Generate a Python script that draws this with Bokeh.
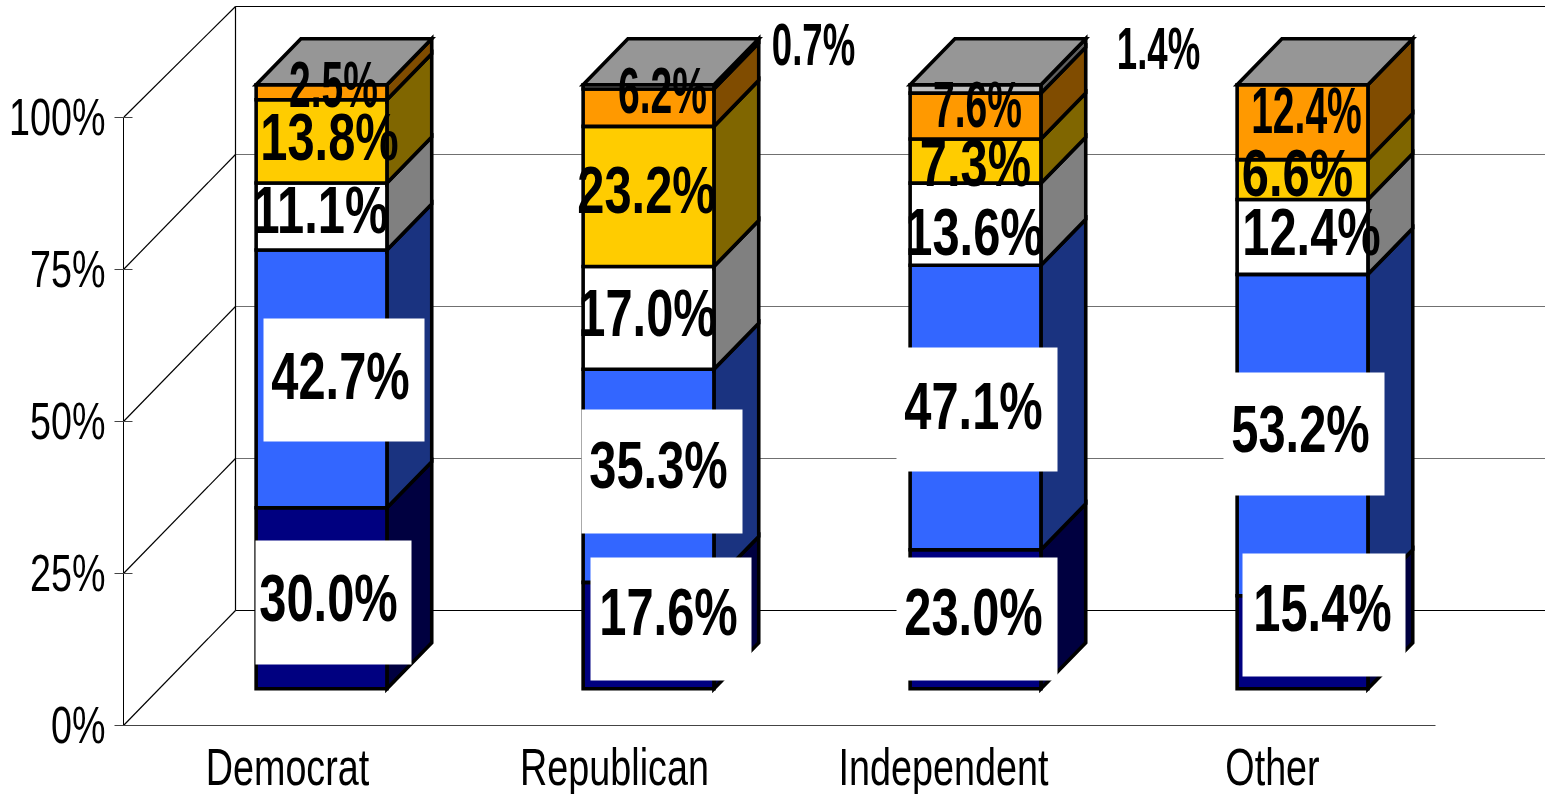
from bokeh.plotting import figure
from bokeh.models import FixedTicker, Range1d
from bokeh.core.properties import value
from bokeh.embed import file_html
from bokeh.resources import INLINE

# ---- data (percent) ----
categories = ["Democrat", "Republican", "Independent", "Other"]
series_1 = [30.0, 17.6, 23.0, 15.4]
series_2 = [42.7, 35.3, 47.1, 53.2]
series_3 = [11.1, 17.0, 13.6, 12.4]
series_4 = [13.8, 23.2, 7.3, 6.6]
series_5 = [2.5, 6.2, 7.6, 12.4]
series_6 = [0.0, 0.7, 1.4, 0.0]
y_ticks = [0, 25, 50, 75, 100]

# ---- styles ----
front = ["#000080", "#3366FF", "#FFFFFF", "#FFCC00", "#FF9900", "#C0C0C0"]
side = ["#000040", "#1A3380", "#808080", "#806600", "#804C00", "#606060"]
top_colour = "#969696"
FONT = "Liberation Sans"
LW = 3.6

# ---- layout in screen pixels ----
LEFT, BASE, WIDTH, HEIGHT = 123, 725, 1545, 794
BORDER = 170
SLOT, UNIT = 327.0, 6.08
DX, DY = 112.0, 115.0
BACK_SCALE = 604.0 / 608.0
BAR_X, BAR_W, D0, D1 = 0.296, 0.40, 0.32, 0.72
LABEL_LIFT = 3


def proj(slot, pct, depth):
    s = BACK_SCALE if depth > 0 else 1.0
    return slot + depth * DX / SLOT, pct * s + depth * DY / UNIT


def X(px):
    return (px - LEFT) / SLOT


def Y(py):
    return (BASE - py) / UNIT


p = figure(frame_width=WIDTH - LEFT, frame_height=BASE, output_backend="svg", toolbar_location=None,
           x_range=Range1d(0, (WIDTH - LEFT) / SLOT), y_range=Range1d(0, BASE / UNIT),
           min_border_left=BORDER, min_border_right=0, min_border_top=0,
           min_border_bottom=HEIGHT - BASE,
           styles={"position": "fixed", "left": f"{LEFT - BORDER}px", "top": "0px"})
p.outline_line_color = None
p.grid.visible = False
p.background_fill_color = "white"

# axes
ya = p.yaxis[0]
ya.ticker = FixedTicker(ticks=y_ticks)
ya.major_label_overrides = {t: f"{t}%" for t in y_ticks}
ya.bounds = (0, 100)
ya.minor_tick_line_color = None
ya.major_tick_in = 9
ya.major_tick_out = 9
ya.major_tick_line_color = "#444444"
ya.axis_line_color = "black"
ya.major_label_standoff = 9
ya.major_label_text_font = FONT
ya.major_label_text_font_size = "51px"
ya.major_label_text_color = "black"

xa = p.xaxis[0]
cat_centres = [X(px) for px in (287, 614, 943, 1272)]
xa.ticker = FixedTicker(ticks=cat_centres)
xa.major_label_overrides = dict(zip(cat_centres, categories))
xa.bounds = (0, (1435 - LEFT) / SLOT)
xa.minor_tick_line_color = None
xa.major_tick_line_color = None
xa.major_tick_in = 0
xa.major_tick_out = 0
xa.axis_line_color = "#444444"
xa.major_label_standoff = 14
xa.major_label_text_font = FONT
xa.major_label_text_font_size = "51px"
xa.major_label_text_color = "black"

# walls
xs_wall, ys_wall = [], []
xs_grey, ys_grey = [], []
right = (WIDTH - LEFT) / SLOT
for t in y_ticks:
    x0, y0 = proj(0, t, 0)
    x1 = x0 + DX / SLOT
    y1 = (t * BACK_SCALE if t == 100 else t) + DY / UNIT
    xs_wall.append([x0, x1])
    ys_wall.append([y0, y1])
    target = (xs_wall, ys_wall) if t in (0, 100) else (xs_grey, ys_grey)
    target[0].append([x1, right])
    target[1].append([y1, y1])
x0, y0 = proj(0, 0, 1)
x1, y1 = proj(0, 100, 1)
xs_wall.append([x0, x1])
ys_wall.append([y0, y1])
p.multi_line(xs_grey, ys_grey, line_color="#707070", line_width=1)
p.multi_line(xs_wall, ys_wall, line_color="black", line_width=1.2)

# bars
all_series = [series_1, series_2, series_3, series_4, series_5, series_6]
for i in range(len(categories)):
    total = sum(s[i] for s in all_series)
    left = i + BAR_X
    rgt = left + BAR_W
    base = 0.0
    for k, s in enumerate(all_series):
        top = base + s[i] * 100.0 / total
        if s[i] > 0:
            c = [proj(rgt, base, D0), proj(rgt, base, D1), proj(rgt, top, D1), proj(rgt, top, D0)]
            p.patch([a for a, _ in c], [b for _, b in c], fill_color=side[k],
                    line_color="black", line_width=LW, line_join="miter")
            c = [proj(left, base, D0), proj(rgt, base, D0), proj(rgt, top, D0), proj(left, top, D0)]
            p.patch([a for a, _ in c], [b for _, b in c], fill_color=front[k],
                    line_color="black", line_width=LW, line_join="miter")
        base = top
    c = [proj(left, base, D0), proj(rgt, base, D0), proj(rgt, base, D1), proj(left, base, D1)]
    p.patch([a for a, _ in c], [b for _, b in c], fill_color=top_colour,
            line_color="black", line_width=LW, line_join="miter")

# white boxes behind some moved data labels (left, top, right, bottom in pixels)
boxes = [(255, 540, 411, 664), (263, 318, 424, 441), (590, 557, 751, 680), (581, 409, 742, 533),
         (896, 557, 1057, 680), (896, 347, 1057, 471), (1242, 553, 1405, 676), (1223, 372, 1384, 495)]
p.quad(left=[X(b[0]) for b in boxes], right=[X(b[2]) for b in boxes],
       top=[Y(b[1]) for b in boxes], bottom=[Y(b[3]) for b in boxes],
       fill_color="white", line_color=None)

# data labels: same order as the series, with hand placed centres in pixels
BIG, SMALL, TINY = 66, 64, 60
label_at = [
    [(328, 600, BIG), (668, 614, BIG), (973, 614, BIG), (1322, 610, BIG)],
    [(340, 378, BIG), (658, 467, BIG), (973, 408, BIG), (1300, 431, BIG)],
    [(320, 212, BIG), (647, 315, BIG), (974, 234, BIG), (1311, 234, BIG)],
    [(329, 139, BIG), (646, 192, BIG), (975, 165, BIG), (1297, 175, BIG)],
    [(333, 88, SMALL), (662, 94, SMALL), (977, 108, SMALL), (1306, 114, SMALL)],
    [None, (813, 47, TINY), (1158, 51, TINY), None],
]
for s, places in zip(all_series, label_at):
    for v, where in zip(s, places):
        if where is None:
            continue
        p.text([X(where[0])], [Y(where[1] - LABEL_LIFT)], text=[f"{v:.1f}%"], text_align="center",
               text_baseline="middle", text_color="black",
               text_font=value(FONT), text_font_style="bold",
               text_font_size=value(f"{where[2]}px"))

# The reference's Arial is squeezed horizontally; no narrow face is installed, so
# the real SVG texts are condensed with an SVG transform once Bokeh has drawn them.
condense = """
<script>
(function () {
  function walk(root, out) {
    root.querySelectorAll('*').forEach(function (el) {
      if (el.tagName && el.tagName.toLowerCase() === 'text') out.push(el);
      if (el.shadowRoot) walk(el.shadowRoot, out);
    });
    return out;
  }
  function apply() {
    walk(document, []).forEach(function (t) {
      if (t.getAttribute('data-condensed')) return;
      t.setAttribute('data-condensed', '1');
      var size = parseFloat(getComputedStyle(t).fontSize);
      var txt = t.textContent;
      var isData = /\\./.test(txt);
      var k = (isData && size < 65) ? 0.61 : 0.74;
      var bb = t.getBBox();
      var isTick = !isData && /%$/.test(txt);
      var x = isTick ? bb.x + bb.width : bb.x + bb.width / 2;
      var old = t.getAttribute('transform') || '';
      t.setAttribute('transform', old + ' translate(' + x + ' 0) scale(' + k + ' 1) translate(' + (-x) + ' 0)');
    });
  }
  var n = 0;
  var h = setInterval(function () { apply(); if (++n > 20) clearInterval(h); }, 100);
})();
</script>
"""
html = file_html(p, INLINE)
html = html.replace("</body>", condense + "</body>")
open("out.html", "w").write(html)
